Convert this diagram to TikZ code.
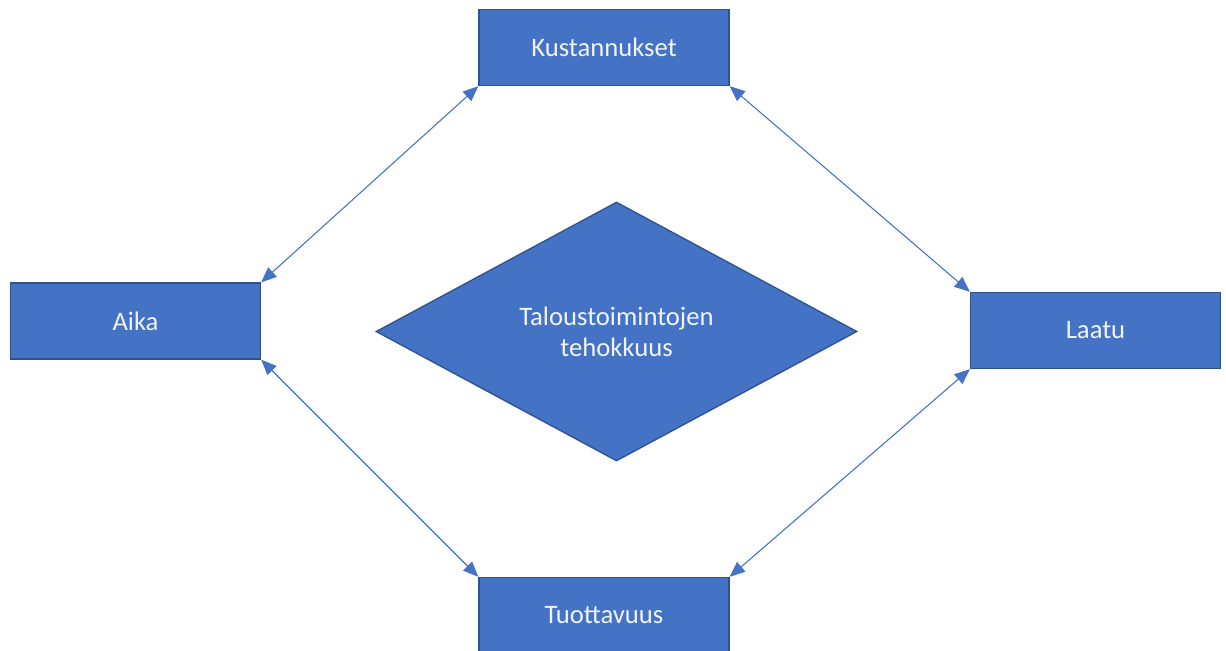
\documentclass[tikz,border=0pt]{standalone}
\usepackage{fontspec}
\setmainfont{Carlito}
\usetikzlibrary{arrows.meta,shapes.geometric,positioning}

\definecolor{boxblue}{HTML}{4472C4}
\definecolor{boxedge}{HTML}{2F528F}

\begin{document}
\begin{tikzpicture}[
    x = 0.75pt, y = -0.75pt, % one unit = one pixel of the reference
    line width = 0.8pt, % line style
    ]

    \tikzset{every node/.style={font=\fontsize{20}{23.5}\selectfont, text=white!92!boxblue}}
    \tikzset{factor/.style={
    rectangle,
    draw = boxedge,
    fill = boxblue,
    line width = 1pt,
    minimum width = 187.5pt,
    minimum height = 57pt,
    inner sep = 0pt
    }}
    \tikzset{target/.style={
    diamond,
    draw = boxedge,
    fill = boxblue,
    line width = 1pt,
    minimum width = 360.75pt,
    minimum height = 194.25pt,
    inner sep = 0pt,
    align = center
    }}
    \tikzset{link/.style={
    draw = boxblue,
    {Triangle[length=11.5pt,width=9.5pt]}-{Triangle[length=11.5pt,width=9.5pt]} % double arrow heads
    }}

    \useasboundingbox (0,0) rectangle (1226,650);
    \clip (0,0) rectangle (1226,650);

    \node[factor] (kust) at (604,47.5) {Kustannukset};
    \node[factor] (aika) at (135.5,321) {Aika};
    \node[factor] (laatu) at (1095.5,330.5) {Laatu};
    \node[factor] (tuotto) at (604,615.5) {Tuottavuus};
    \node[target] (teho) at (616.5,331.5) {Taloustoimintojen\\tehokkuus};

    \draw[link] (kust.south west) -- (aika.north east);
    \draw[link] (kust.south east) -- (laatu.north west);
    \draw[link] (aika.south east) -- (tuotto.north west);
    \draw[link] (laatu.south west) -- (tuotto.north east);
\end{tikzpicture}
\end{document}
